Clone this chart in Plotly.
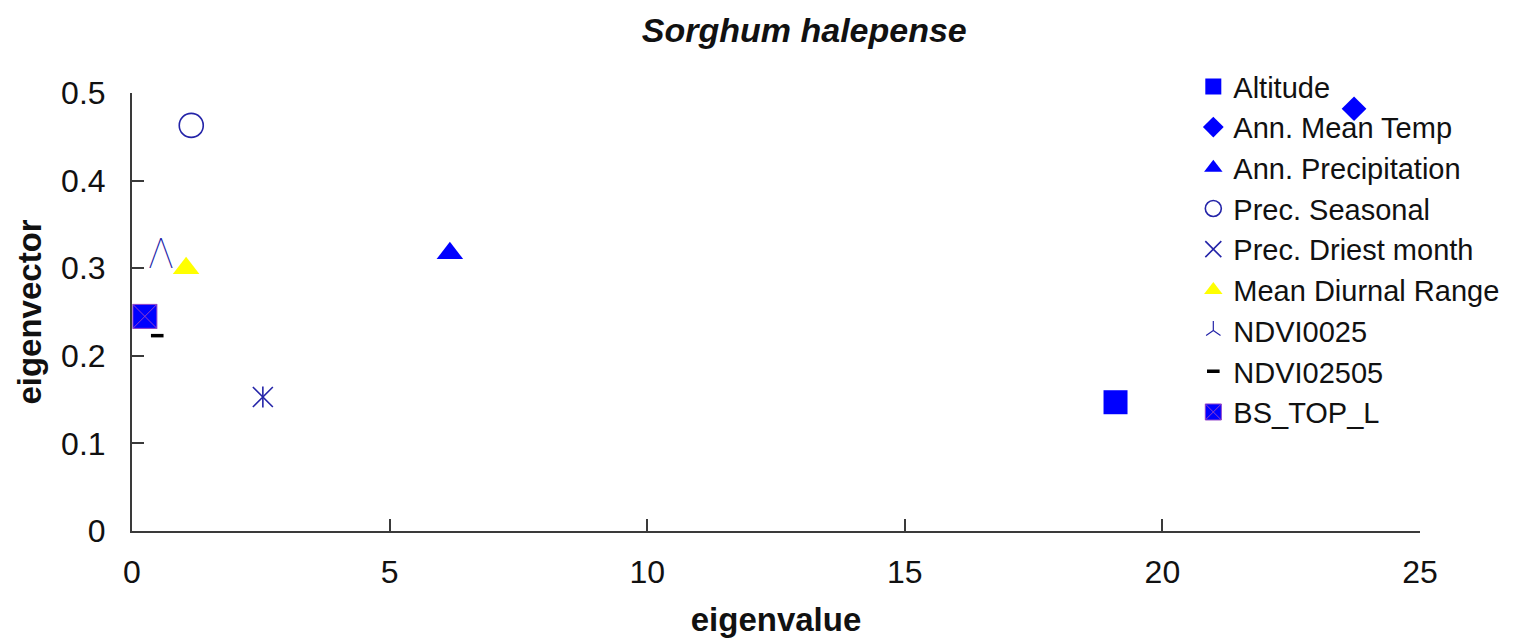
import plotly.graph_objects as go

# Eigenvector loading of each environmental variable against its eigenvalue
variables = ["Altitude", "Ann. Mean Temp", "Ann. Precipitation", "Prec. Seasonal",
             "Prec. Driest month", "Mean Diurnal Range", "NDVI0025", "NDVI02505", "BS_TOP_L"]
eigenvalue = [19.09, 23.72, 6.17, 1.15, 2.54, 1.05, 0.56, 0.49, 0.25]
eigenvector = [0.147, 0.482, 0.317, 0.463, 0.153, 0.300, 0.312, 0.223, 0.245]

x_ticks = [0, 5, 10, 15, 20, 25]
y_ticks = [0, 0.1, 0.2, 0.3, 0.4, 0.5]
y_tick_text = ["0", "0.1", "0.2", "0.3", "0.4", "0.5"]

BLUE = "#0000FF"
NAVY = "#2424A8"
INK = "#111111"
FONT = "Liberation Sans, Arial, sans-serif"

# marker style per variable (None -> drawn as a glyph)
styles = {
    "Altitude": dict(symbol="square", size=24, color=BLUE, line=dict(width=0)),
    "Ann. Mean Temp": dict(symbol="diamond", size=19, color=BLUE, line=dict(width=0)),
    "Ann. Precipitation": dict(symbol="triangle-up", size=23, color=BLUE, line=dict(width=0)),
    "Prec. Seasonal": dict(symbol="circle-open", size=24, color=NAVY, line=dict(width=1.6, color=NAVY)),
    "Prec. Driest month": dict(symbol="x-thin-open", size=20, color=NAVY, line=dict(width=1.6, color=NAVY)),
    "Mean Diurnal Range": dict(symbol="triangle-up", size=23, color="#FFFF00", line=dict(width=0)),
    "NDVI0025": None,
    "NDVI02505": dict(symbol="line-ew-open", size=9, color="#000000", line=dict(width=3.5, color="#000000")),
    "BS_TOP_L": dict(symbol="square-x", size=24, color=BLUE, line=dict(width=1, color="#9040C8")),
}

fig = go.Figure()

for name, xv, yv in zip(variables, eigenvalue, eigenvector):
    st = styles[name]
    if st is None:
        # caret glyph for the point, with a matching legend entry
        fig.add_trace(go.Scatter(
            x=[None], y=[None], mode="markers", name=name, legendgroup=name,
            marker=dict(symbol="y-up-open", size=12, color=NAVY, line=dict(width=1.2, color=NAVY)),
        ))
        fig.add_trace(go.Scatter(
            x=[xv], y=[yv], mode="text", text=["\u039b"], showlegend=False, legendgroup=name,
            textposition="middle center",
            textfont=dict(family="Roboto", size=42, color=NAVY, weight=100),
            hoverinfo="skip",
        ))
        continue
    fig.add_trace(go.Scatter(
        x=[xv], y=[yv], mode="markers", name=name, legendgroup=name, marker=st,
    ))
    if name == "Prec. Driest month":
        # vertical stroke completing the six-armed star
        fig.add_trace(go.Scatter(
            x=[xv], y=[yv], mode="markers", showlegend=False, legendgroup=name,
            marker=dict(symbol="line-ns-open", size=15, color=NAVY, line=dict(width=1.6, color=NAVY)),
        ))

axis_common = dict(
    showgrid=False, zeroline=False, showline=True, linecolor="#3A3A3A", linewidth=2,
    ticks="inside", ticklen=12, tickwidth=2, tickcolor="#3A3A3A",
    tickfont=dict(family=FONT, size=32, color=INK),
    mirror=False, automargin=False,
)

fig.update_xaxes(
    range=[0, 25], tickvals=x_ticks, ticklabelstandoff=12,
    title=dict(text="<b>eigenvalue</b>", font=dict(family=FONT, size=33, color=INK), standoff=18),
    **axis_common,
)
fig.update_yaxes(
    range=[0, 0.5], tickvals=y_ticks, ticktext=y_tick_text, ticklabelstandoff=18,
    title=dict(text="<b>eigenvector</b>", font=dict(family=FONT, size=33, color=INK), standoff=10),
    **axis_common,
)

fig.update_layout(
    width=1532, height=644,
    margin=dict(l=132, r=112, t=93, b=113),
    paper_bgcolor="white", plot_bgcolor="white",
    title=dict(
        text="<b><i>Sorghum halepense</i></b>",
        font=dict(family=FONT, size=34, color=INK),
        x=0.525, xanchor="center", xref="container",
        y=0.953, yanchor="middle", yref="container",
    ),
    legend=dict(
        x=0.824, y=1.073, xanchor="left", yanchor="top",
        font=dict(family=FONT, size=29, color=INK),
        bgcolor="rgba(0,0,0,0)", itemwidth=30, tracegroupgap=0,
        maxheight=620,
    ),
    showlegend=True,
)

fig.write_html("out.html")
